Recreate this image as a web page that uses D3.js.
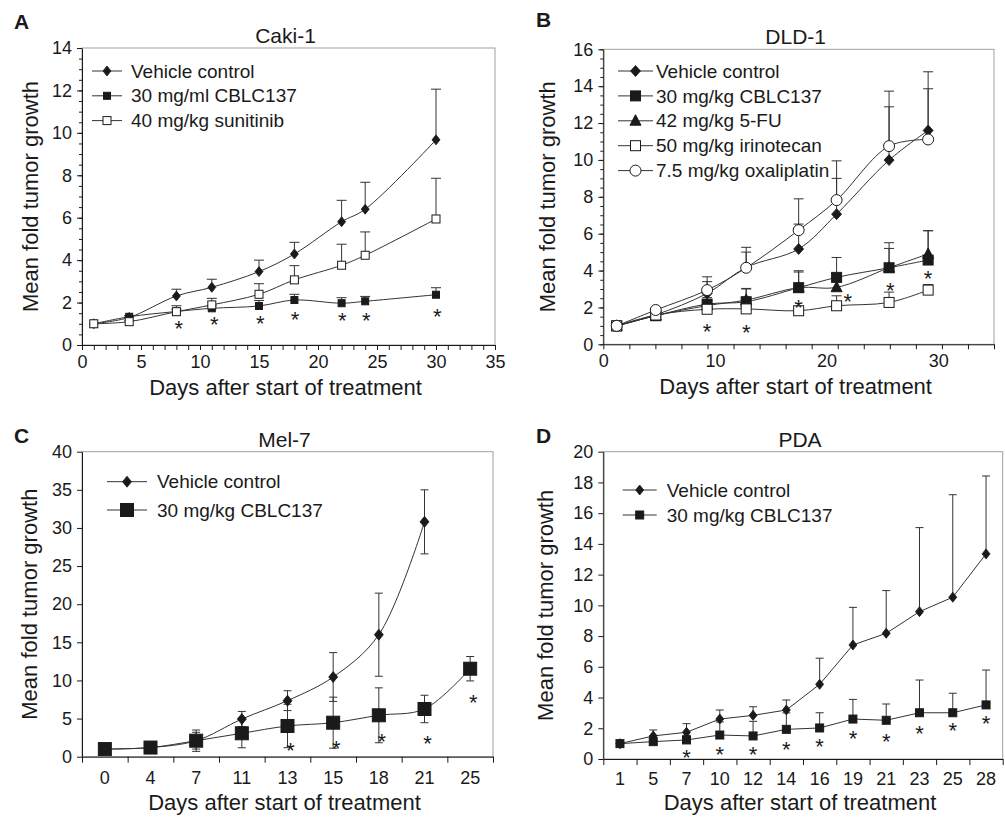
<!DOCTYPE html>
<html>
<head>
<meta charset="utf-8">
<script src="https://cdn.jsdelivr.net/npm/d3@7"></script>
<style>
    body { margin: 0; background: #fff; }
    svg text { font-family: "Liberation Sans", Arial, sans-serif; fill: #1a1a1a; }
</style>
</head>
<body>
<div id="chart"></div>
<script>
// ---------- A: Caki-1 ----------
const cakiDays = [1, 4, 8, 11, 15, 18, 22, 24, 30];
const cakiVehicle = [1.0, 1.3, 2.31, 2.72, 3.46, 4.29, 5.81, 6.4, 9.67];
const cakiVehicleErr = [0, 0.08, 0.32, 0.38, 0.54, 0.55, 1.01, 1.27, 2.39];
const cakiCblc = [1.0, 1.33, 1.58, 1.73, 1.84, 2.12, 1.97, 2.06, 2.37];
const cakiCblcErr = [0, 0.05, 0.1, 0.12, 0.26, 0.27, 0.26, 0.23, 0.33];
const cakiSunitinib = [1.0, 1.1, 1.57, 1.89, 2.39, 3.07, 3.76, 4.23, 5.94];
const cakiSunitinibErr = [0, 0.05, 0.28, 0.31, 0.5, 0.67, 0.99, 1.1, 1.92];
const cakiStarDays = [8.2, 11.2, 15.1, 18.05, 22.05, 24.1, 30.1];
const cakiStarVals = [1.02, 1.21, 1.26, 1.45, 1.37, 1.37, 1.6];

// ---------- B: DLD-1 ----------
const dldDays = [1.2, 4.7, 9.3, 12.8, 17.5, 20.9, 25.6, 29.1];
const dldVehicle = [1.0, 1.6, 2.76, 4.17, 5.17, 7.06, 9.99, 11.6];
const dldVehicleErr = [0, 0.1, 0.64, 0.83, 1.35, 1.94, 2.89, 3.18];
const dldCblc = [1.0, 1.55, 2.18, 2.31, 3.07, 3.63, 4.15, 4.57];
const dldCblcErr = [0, 0.08, 0.35, 0.72, 0.92, 1.08, 1.36, 1.59];
const dldFu = [1.0, 1.55, 2.1, 2.4, 3.07, 3.09, 4.15, 4.9];
const dldFuErr = [0, 0.08, 0.3, 0.6, 0.85, 0.4, 1.05, 1.26];
const dldIrino = [1.0, 1.59, 1.9, 1.92, 1.82, 2.09, 2.27, 2.94];
const dldIrinoErr = [0, 0.05, 0.1, 0.1, 0.15, 0.54, 0.56, 0.3];
const dldOxali = [1.0, 1.86, 2.94, 4.15, 6.19, 7.82, 10.75, 11.11];
const dldOxaliErr = [0, 0.1, 0.72, 1.11, 1.7, 2.13, 2.98, 2.75];
const dldStarDays = [9.3, 12.8, 17.5, 21.9, 25.7, 29.1];
const dldStarVals = [0.95, 0.9, 2.27, 2.58, 3.2, 3.85];

// ---------- C: Mel-7 ----------
const melDays = ["0", "4", "7", "11", "13", "15", "18", "21", "25"];
const melVehicle = [1.0, 1.2, 2.1, 4.94, 7.35, 10.45, 16.0, 30.8];
const melVehicleErr = [0, 0.1, 1.4, 1.0, 1.3, 3.2, 5.45, 4.2];
const melCblc = [1.0, 1.2, 2.1, 3.07, 4.03, 4.46, 5.43, 6.26, 11.54];
const melCblcErr = [0, 0.1, 1.1, 1.9, 2.85, 3.35, 3.6, 1.8, 1.6];
const melStarDays = ["13", "15", "18", "21", "25"];
const melStarVals = [1.45, 1.75, 2.6, 2.4, 7.8];

// ---------- D: PDA ----------
const pdaDays = ["1", "5", "7", "10", "12", "14", "16", "19", "21", "23", "25", "28"];
const pdaVehicle = [1.0, 1.5, 1.74, 2.6, 2.84, 3.19, 4.86, 7.42, 8.18, 9.59, 10.53, 13.35];
const pdaVehicleErr = [0, 0.39, 0.56, 0.59, 0.56, 0.65, 1.7, 2.45, 2.78, 5.47, 6.67, 5.07];
const pdaCblc = [1.0, 1.13, 1.24, 1.56, 1.5, 1.93, 2.02, 2.6, 2.52, 3.01, 3.01, 3.52];
const pdaCblcErr = [0, 0.1, 0.3, 0.85, 0.95, 1.07, 0.99, 1.28, 1.06, 2.13, 1.27, 2.27];
const pdaStarDays = ["7", "10", "12", "14", "16", "19", "21", "23", "25", "28"];
const pdaStarVals = [0.45, 0.62, 0.62, 0.93, 1.13, 1.67, 1.45, 2.0, 2.21, 2.65];

const xTitle = "Days after start of treatment";
const yTitle = "Mean fold tumor growth";
const ink = "#1a1a1a";

const svg = d3.select("#chart").append("svg")
    .attr("width", 1005)
    .attr("height", 817);

// panel layout (pixels)
const panels = [
    {
        letter: "A", title: "Caki-1", letterX: 14, letterY: 29,
        left: 82, right: 495, top: 48, bottom: 345,
        xDomain: [0, 35], xLabels: d3.range(0, 36, 5), xMinor: d3.range(0, 36, 1),
        yDomain: [0, 14], yStep: 2, yMinor: 0.5,
        curve: d3.curveCatmullRom.alpha(0.5), errMode: "up", cap: 10,
        xs: cakiDays,
        series: [
            {name: "Vehicle control", v: cakiVehicle, e: cakiVehicleErr, m: "diamond", w: 4, h: 5, open: false},
            {name: "30 mg/ml CBLC137", v: cakiCblc, e: cakiCblcErr, m: "square", w: 3.5, open: false},
            {name: "40 mg/kg sunitinib", v: cakiSunitinib, e: cakiSunitinibErr, m: "square", w: 4, open: true}
        ],
        stars: {x: cakiStarDays, v: cakiStarVals}, starDx: 0,
        legend: {x1: 92, x2: 122, tx: 131, y0: 71, dy: 24.8},
        yTitleX: 38, labelPad: 5, xTitleDy: 50
    },
    {
        letter: "B", title: "DLD-1", letterX: 536, letterY: 27,
        left: 603.3, right: 994, top: 49.3, bottom: 344.3,
        xDomain: [0, 35], xLabels: [0, 10, 20, 30], xMinor: d3.range(0, 35.01, 35 / 15),
        yDomain: [0, 16], yStep: 2, yMinor: 0.5,
        curve: d3.curveCatmullRom.alpha(0.5), errMode: "up", cap: 10,
        xs: dldDays,
        series: [
            {name: "Vehicle control", v: dldVehicle, e: dldVehicleErr, m: "diamond", w: 5, h: 5.5, open: false},
            {name: "30 mg/kg CBLC137", v: dldCblc, e: dldCblcErr, m: "square", w: 5, open: false},
            {name: "42 mg/kg 5-FU", v: dldFu, e: dldFuErr, m: "triangle", w: 5.5, open: false},
            {name: "50 mg/kg irinotecan", v: dldIrino, e: dldIrinoErr, m: "square", w: 5, open: true},
            {name: "7.5 mg/kg oxaliplatin", v: dldOxali, e: dldOxaliErr, m: "circle", w: 5.5, open: true}
        ],
        stars: {x: dldStarDays, v: dldStarVals}, starDx: 0,
        legend: {x1: 618, x2: 653, tx: 656, y0: 71, dy: 24.9},
        yTitleX: 555, labelPad: 5, xTitleDy: 50
    },
    {
        letter: "C", title: "Mel-7", letterX: 14, letterY: 443,
        left: 82, right: 493, top: 451.7, bottom: 756.7,
        categories: melDays,
        yDomain: [0, 40], yStep: 5, yMinor: null,
        curve: d3.curveCatmullRom.alpha(0.5), errMode: "both", cap: 8,
        xs: melDays,
        series: [
            {name: "Vehicle control", v: melVehicle, e: melVehicleErr, m: "diamond", w: 4.5, h: 5.5, open: false},
            {name: "30 mg/kg CBLC137", v: melCblc, e: melCblcErr, m: "square", w: 6.5, open: false}
        ],
        stars: {x: melStarDays, v: melStarVals}, starDx: 3,
        legend: {x1: 107, x2: 147, tx: 157, y0: 481.7, dy: 28.3},
        yTitleX: 37, labelPad: 14.5, xTitleDy: 53
    },
    {
        letter: "D", title: "PDA", letterX: 536, letterY: 443,
        left: 603.3, right: 1002.7, top: 451.7, bottom: 759,
        categories: pdaDays,
        yDomain: [0, 20], yStep: 2, yMinor: null,
        curve: d3.curveLinear, errMode: "up", cap: 8,
        xs: pdaDays,
        series: [
            {name: "Vehicle control", v: pdaVehicle, e: pdaVehicleErr, m: "diamond", w: 4, h: 5, open: false},
            {name: "30 mg/kg CBLC137", v: pdaCblc, e: pdaCblcErr, m: "square", w: 4, open: false}
        ],
        stars: {x: pdaStarDays, v: pdaStarVals}, starDx: 0,
        legend: {x1: 622.7, x2: 656.7, tx: 666.7, y0: 490, dy: 25},
        yTitleX: 553, labelPad: 13, xTitleDy: 50.5
    }
];

function drawMarker(g, s, cx, cy) {
    const fill = s.open ? "#fff" : ink;
    if (s.m === "square") {
        g.append("rect")
            .attr("x", cx - s.w).attr("y", cy - s.w)
            .attr("width", 2 * s.w).attr("height", 2 * s.w)
            .attr("fill", fill).attr("stroke", ink).attr("stroke-width", 1);
    } else if (s.m === "circle") {
        g.append("circle")
            .attr("cx", cx).attr("cy", cy).attr("r", s.w)
            .attr("fill", fill).attr("stroke", ink).attr("stroke-width", 1);
    } else if (s.m === "triangle") {
        const r = s.w;
        g.append("path")
            .attr("d", `M${cx},${cy - r * 1.1}L${cx + r},${cy + r * 0.8}L${cx - r},${cy + r * 0.8}Z`)
            .attr("fill", fill).attr("stroke", ink).attr("stroke-width", 1);
    } else {
        g.append("path")
            .attr("d", `M${cx},${cy - s.h}L${cx + s.w},${cy}L${cx},${cy + s.h}L${cx - s.w},${cy}Z`)
            .attr("fill", fill).attr("stroke", ink).attr("stroke-width", 0.8);
    }
}

function drawPanel(p) {
    const g = svg.append("g");

    // scales
    let x, xpos;
    if (p.categories) {
        x = d3.scaleBand().domain(p.categories).range([p.left, p.right]);
        xpos = d => x(d) + x.bandwidth() / 2;
    } else {
        x = d3.scaleLinear().domain(p.xDomain).range([p.left, p.right]);
        xpos = d => x(d);
    }
    const y = d3.scaleLinear().domain(p.yDomain).range([p.bottom, p.top]);

    // light frame (top & right)
    g.append("rect")
        .attr("x", p.left).attr("y", p.top)
        .attr("width", p.right - p.left).attr("height", p.bottom - p.top)
        .attr("fill", "none").attr("stroke", "#a0a0a0").attr("stroke-width", 1);

    // y axis
    if (p.yMinor) {
        g.append("g")
            .attr("transform", `translate(${p.left},0)`)
            .call(d3.axisLeft(y).tickValues(d3.range(p.yDomain[0], p.yDomain[1] + 0.001, p.yMinor)).tickSize(3).tickFormat("").tickSizeOuter(0))
            .call(a => a.select(".domain").remove())
            .call(a => a.selectAll("line").attr("stroke", ink));
    }
    g.append("g")
        .attr("transform", `translate(${p.left},0)`)
        .call(d3.axisLeft(y).tickValues(d3.range(p.yDomain[0], p.yDomain[1] + 0.001, p.yStep)).tickSize(5).tickPadding(5).tickSizeOuter(0))
        .call(a => a.select(".domain").attr("stroke", ink))
        .call(a => a.selectAll("line").attr("stroke", ink))
        .call(a => a.selectAll("text").attr("font-size", 18).attr("font-family", "Liberation Sans, Arial, sans-serif").attr("fill", ink));

    // x axis
    if (p.categories) {
        const edge = d3.scaleLinear().domain([0, p.categories.length]).range([p.left, p.right]);
        g.append("g")
            .attr("transform", `translate(0,${p.bottom})`)
            .call(d3.axisBottom(edge).tickValues(d3.range(0, p.categories.length + 1)).tickSize(6).tickFormat("").tickSizeOuter(0))
            .call(a => a.select(".domain").attr("stroke", ink))
            .call(a => a.selectAll("line").attr("stroke", ink));
        g.append("g")
            .attr("transform", `translate(0,${p.bottom})`)
            .call(d3.axisBottom(x).tickSize(0).tickPadding(p.labelPad).tickSizeOuter(0))
            .call(a => a.select(".domain").remove())
            .call(a => a.selectAll("text").attr("font-size", 18).attr("font-family", "Liberation Sans, Arial, sans-serif").attr("fill", ink));
    } else {
        g.append("g")
            .attr("transform", `translate(0,${p.bottom})`)
            .call(d3.axisBottom(x).tickValues(p.xMinor).tickSize(5).tickFormat("").tickSizeOuter(0))
            .call(a => a.select(".domain").attr("stroke", ink))
            .call(a => a.selectAll("line").attr("stroke", ink));
        g.append("g")
            .attr("transform", `translate(0,${p.bottom})`)
            .call(d3.axisBottom(x).tickValues(p.xLabels).tickSize(0).tickPadding(p.labelPad + 5).tickFormat(d3.format("d")))
            .call(a => a.select(".domain").remove())
            .call(a => a.selectAll("text").attr("font-size", 18).attr("font-family", "Liberation Sans, Arial, sans-serif").attr("fill", ink));
    }

    // lines
    p.series.forEach(s => {
        const line = d3.line()
            .x((d, i) => xpos(p.xs[i]))
            .y(d => y(d))
            .curve(p.curve);
        g.append("path")
            .attr("d", line(s.v))
            .attr("fill", "none")
            .attr("stroke", "#333")
            .attr("stroke-width", 1);
    });

    // error bars
    p.series.forEach(s => {
        s.v.forEach((d, i) => {
            const e = s.e[i];
            if (!e) return;
            const cx = xpos(p.xs[i]);
            const lo = p.errMode === "both" ? d - e : d;
            const hi = d + e;
            g.append("line")
                .attr("x1", cx).attr("x2", cx)
                .attr("y1", y(lo)).attr("y2", y(hi))
                .attr("stroke", "#333").attr("stroke-width", 1);
            g.append("line")
                .attr("x1", cx - p.cap / 2).attr("x2", cx + p.cap / 2)
                .attr("y1", y(hi)).attr("y2", y(hi))
                .attr("stroke", "#333").attr("stroke-width", 1);
            if (p.errMode === "both") {
                g.append("line")
                    .attr("x1", cx - p.cap / 2).attr("x2", cx + p.cap / 2)
                    .attr("y1", y(lo)).attr("y2", y(lo))
                    .attr("stroke", "#333").attr("stroke-width", 1);
            }
        });
    });

    // markers
    p.series.forEach(s => {
        s.v.forEach((d, i) => drawMarker(g, s, xpos(p.xs[i]), y(d)));
    });

    // significance stars
    p.stars.x.forEach((sx, i) => {
        g.append("text")
            .attr("x", xpos(sx) + p.starDx)
            .attr("y", y(p.stars.v[i]))
            .attr("dy", "0.57em")
            .attr("text-anchor", "middle")
            .attr("font-size", 22)
            .text("*");
    });

    // legend
    p.series.forEach((s, i) => {
        const ly = p.legend.y0 + i * p.legend.dy;
        g.append("line")
            .attr("x1", p.legend.x1).attr("x2", p.legend.x2)
            .attr("y1", ly).attr("y2", ly)
            .attr("stroke", "#333").attr("stroke-width", 1);
        drawMarker(g, s, (p.legend.x1 + p.legend.x2) / 2, ly);
        g.append("text")
            .attr("x", p.legend.tx)
            .attr("y", ly)
            .attr("dy", "0.35em")
            .attr("font-size", 19)
            .text(s.name);
    });

    // titles
    const cx = (p.left + p.right) / 2;
    g.append("text")
        .attr("x", cx - 3).attr("y", p.top - 5)
        .attr("text-anchor", "middle")
        .attr("font-size", 21)
        .text(p.title);
    g.append("text")
        .attr("x", p.letterX).attr("y", p.letterY)
        .attr("font-size", 21).attr("font-weight", "bold")
        .text(p.letter);
    g.append("text")
        .attr("x", cx - 3).attr("y", p.bottom + p.xTitleDy)
        .attr("text-anchor", "middle")
        .attr("font-size", 22)
        .text(xTitle);
    g.append("text")
        .attr("transform", `translate(${p.yTitleX},${(p.top + p.bottom) / 2}) rotate(-90)`)
        .attr("text-anchor", "middle")
        .attr("font-size", 22)
        .text(yTitle);
}

panels.forEach(drawPanel);
</script>
</body>
</html>
